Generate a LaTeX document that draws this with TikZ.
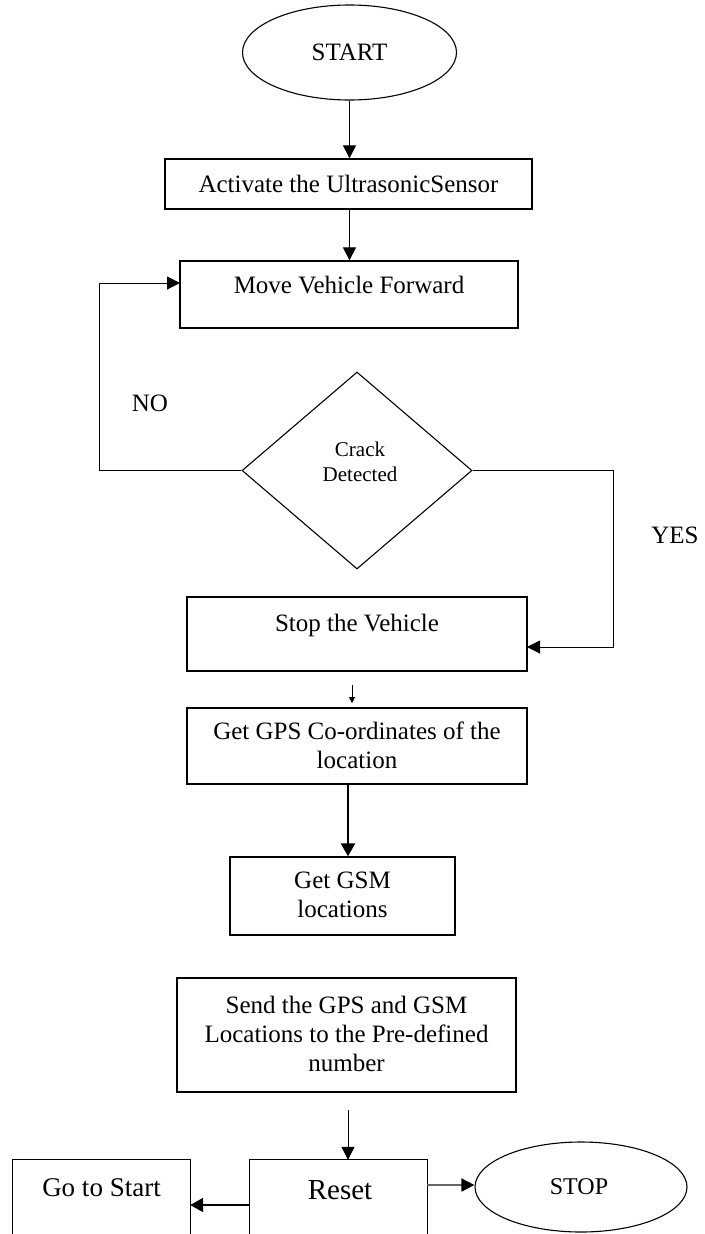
\documentclass[tikz,border=0pt]{standalone}
\usepackage{fontspec}
\setmainfont{Liberation Serif}
\usetikzlibrary{shapes.geometric,arrows.meta}
\begin{document}
\begin{tikzpicture}[x=1pt,y=-1pt,
  box/.style={draw,line width=1.3pt,rectangle,inner sep=0pt},
  openbox/.style={rectangle,inner sep=0pt},
  oval/.style={draw,line width=1.1pt,ellipse,inner sep=0pt},
  decision/.style={draw,line width=1.1pt,diamond,inner sep=0pt},
  txt/.style={inner sep=0pt,align=center,font=\fontsize{25}{29}\selectfont},
  arr/.style={line width=1pt,-{Triangle[length=13pt,width=13pt]}},
  thickarr/.style={line width=2.2pt,-{Triangle[length=13pt,width=14pt]}},
  grayarr/.style={line width=1.5pt,draw=black!60,-{Triangle[length=13pt,width=13pt,color=black,fill=black]}},
  tinyarr/.style={line width=0.9pt,-{Triangle[length=6pt,width=6pt]}},
]
\fill[white] (0,0) rectangle (704,1234);
\useasboundingbox (0,0) rectangle (704,1234);

% nodes
\node[oval,minimum width=214pt,minimum height=95pt] (start) at (349.5,52.5) {};
\node[txt] (startT) at (349.5,52) {START};

\node[box,minimum width=367pt,minimum height=50pt] (act) at (348.5,184) {};
\node[txt] (actT) at (348.5,184) {Activate the UltrasonicSensor};

\node[box,minimum width=338pt,minimum height=67pt] (move) at (349,294.5) {};
\node[txt] (moveT) at (349,285) {Move Vehicle Forward};

\node[decision,minimum width=230pt,minimum height=197pt] (crack) at (357,470.5) {};
\node[txt,font=\fontsize{21}{25}\selectfont] (crackT) at (360,462) {Crack\\Detected};

\node[txt] (noT) at (150,403) {NO};
\node[txt] (yesT) at (675,535) {YES};

\node[box,minimum width=340pt,minimum height=74pt] (stop) at (357,634) {};
\node[txt] (stopT) at (357,625) {Stop the Vehicle};

\node[box,minimum width=340pt,minimum height=76pt] (gps) at (357,746) {};
\node[txt] (gpsT) at (357,745) {Get GPS Co-ordinates of the\\location};

\node[box,minimum width=225pt,minimum height=78pt] (gsm) at (342.5,896) {};
\node[txt] (gsmT) at (342.5,895) {Get GSM\\locations};

\node[box,minimum width=339pt,minimum height=114pt] (send) at (346.5,1035) {};
\node[txt] (sendT) at (346.5,1034) {Send the GPS and GSM\\Locations to the Pre-defined\\number};

\node[openbox,minimum width=177pt,minimum height=76pt] (go) at (101.5,1198) {};
\draw[line width=1.3pt] (go.south west) |- (go.north east) -- (go.south east);
\node[txt,font=\fontsize{27}{31}\selectfont] (goT) at (101.5,1188) {Go to Start};

\node[openbox,minimum width=177pt,minimum height=76pt] (reset) at (338.5,1198) {};
\draw[line width=1.3pt] (reset.south west) |- (reset.north east) -- (reset.south east);
\node[txt,font=\fontsize{29}{33}\selectfont] (resetT) at (340,1190) {Reset};

\node[oval,minimum width=212pt,minimum height=90pt] (stopE) at (581,1187) {};
\node[txt,font=\fontsize{24}{28}\selectfont] (stopET) at (579,1187) {STOP};

% helper coordinates
\coordinate (axisA) at (349.5,0);
\coordinate (axisB) at (348,0);
\coordinate (noIn) at (180,283);
\coordinate (yesIn) at (527,647);
\coordinate (sa1) at (352,685);
\coordinate (sa2) at (352,703);
\coordinate (sendOut) at (348,1110);
\coordinate (resetL) at (250,1205);
\coordinate (resetR) at (427,1185);

% connectors
\draw[arr] (start.south) -- (act.north -| axisA);
\draw[arr] (act.south -| axisA) -- (move.north -| axisA);
\draw[arr] (crack.west) -- ++(-142,0) |- (noIn);
\draw[arr] (crack.east) -- ++(141,0) |- (yesIn);
\draw[tinyarr] (sa1) -- (sa2);
\draw[thickarr] (gps.south -| axisB) -- (gsm.north -| axisB);
\draw[arr] (sendOut) -- (reset.north -| sendOut);
\draw[thickarr] (resetL) -- (go.east |- resetL);
\draw[grayarr] (resetR) -- (stopE.west |- resetR);
\end{tikzpicture}
\end{document}
